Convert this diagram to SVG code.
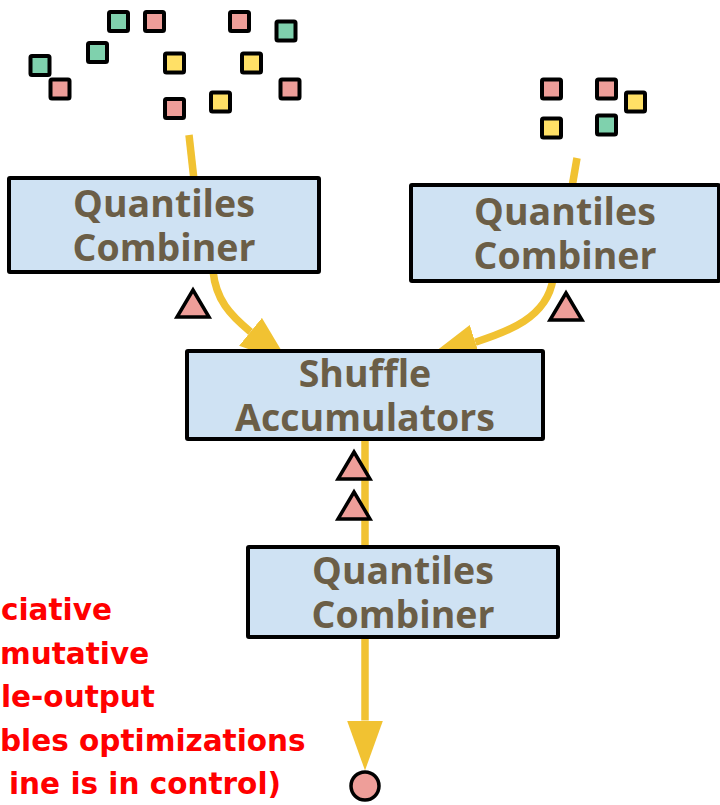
<svg xmlns="http://www.w3.org/2000/svg" width="720" height="805" viewBox="0 0 720 805">
  <style>
    .box { fill: #cfe2f3; stroke: #000; stroke-width: 4; }
    .label { font-family: "Open Sans", "Noto Sans", "Liberation Sans", sans-serif; font-weight: 700; font-size: 37.5px; fill: #6b5e47; text-anchor: middle; }
    .flow { fill: none; stroke: #f1c232; stroke-width: 7.5; }
    .sq { stroke: #000; stroke-width: 4; }
    .pink { fill: #ee9e99; }
    .green { fill: #7fd1ad; }
    .yellow { fill: #ffe066; }
    .tri { fill: #ee9e99; stroke: #000; stroke-width: 3.5; stroke-linejoin: miter; }
    .note { font-family: "DejaVu Sans", "Liberation Sans", sans-serif; font-weight: 700; font-size: 29.5px; fill: #ff0000; }
  </style>
  <defs>
    <marker id="head" viewBox="0 0 50 36" refX="0" refY="18" markerWidth="50" markerHeight="36" markerUnits="userSpaceOnUse" orient="auto">
      <path d="M0,0 L50,18 L0,36 z" fill="#f1c232"/>
    </marker>
    <rect id="sq" x="-9.5" y="-9.5" width="19" height="19" rx="1.5"/>
    <path id="tri" d="M0,0 L16,27 L-16,27 z"/>
  </defs>

  <!-- incoming elements -->
  <g id="elements-left">
    <use href="#sq" class="sq green" x="118.5" y="21.5"/>
    <use href="#sq" class="sq pink" x="154.5" y="21.5"/>
    <use href="#sq" class="sq pink" x="239.5" y="21.5"/>
    <use href="#sq" class="sq green" x="286" y="31"/>
    <use href="#sq" class="sq green" x="97.5" y="52.5"/>
    <use href="#sq" class="sq yellow" x="174.5" y="63"/>
    <use href="#sq" class="sq yellow" x="251.5" y="63"/>
    <use href="#sq" class="sq green" x="40" y="65.5"/>
    <use href="#sq" class="sq pink" x="60" y="89"/>
    <use href="#sq" class="sq pink" x="290" y="89"/>
    <use href="#sq" class="sq yellow" x="220.5" y="102"/>
    <use href="#sq" class="sq pink" x="174.5" y="108.5"/>
  </g>
  <g id="elements-right">
    <use href="#sq" class="sq pink" x="551.5" y="89"/>
    <use href="#sq" class="sq pink" x="606.5" y="89"/>
    <use href="#sq" class="sq yellow" x="635.5" y="102"/>
    <use href="#sq" class="sq yellow" x="551.5" y="128"/>
    <use href="#sq" class="sq green" x="606.5" y="125"/>
  </g>

  <!-- data flow -->
  <g id="connectors">
    <path class="flow" d="M189,135 L194,180"/>
    <path class="flow" d="M577,158 L572,187"/>
    <path class="flow" d="M213,271 C216,300 230,315 250.5,331.8" marker-end="url(#head)"/>
    <path class="flow" d="M553,279 C547,318 507,332 475.3,342.2" marker-end="url(#head)"/>
    <path class="flow" d="M365,437 L365,549"/>
    <path class="flow" d="M365,635 L365,720.5" marker-end="url(#head)"/>
  </g>

  <g id="combiner-left">
    <rect class="box" x="9" y="178" width="310" height="94" rx="1"/>
    <text class="label" x="164" y="217">Quantiles</text>
    <text class="label" x="164" y="261">Combiner</text>
  </g>
  <g id="combiner-right">
    <rect class="box" x="411" y="185" width="308" height="96" rx="1"/>
    <text class="label" x="565" y="225">Quantiles</text>
    <text class="label" x="565" y="269">Combiner</text>
  </g>
  <g id="shuffle">
    <rect class="box" x="187" y="351" width="356" height="88" rx="1"/>
    <text class="label" x="365" y="387">Shuffle</text>
    <text class="label" x="365" y="431">Accumulators</text>
  </g>
  <g id="combiner-bottom">
    <rect class="box" x="248" y="547" width="310" height="90" rx="1"/>
    <text class="label" x="403" y="584">Quantiles</text>
    <text class="label" x="403" y="628">Combiner</text>
  </g>

  <!-- watermarks -->
  <g id="watermarks">
    <use href="#tri" class="tri" x="193" y="290"/>
    <use href="#tri" class="tri" x="566" y="293"/>
    <use href="#tri" class="tri" x="354" y="452"/>
    <use href="#tri" class="tri" x="354" y="492"/>
  </g>

  <g id="output">
    <circle cx="365" cy="786" r="14" fill="#ee9e99" stroke="#000" stroke-width="3.5"/>
  </g>

  <g id="notes">
    <text class="note" x="1" y="620">ciative</text>
    <text class="note" x="0" y="663.5">mutative</text>
    <text class="note" x="1" y="707">le-output</text>
    <text class="note" x="0" y="750.5">bles optimizations</text>
    <text class="note" x="9" y="794">ine is in control)</text>
  </g>
</svg>
